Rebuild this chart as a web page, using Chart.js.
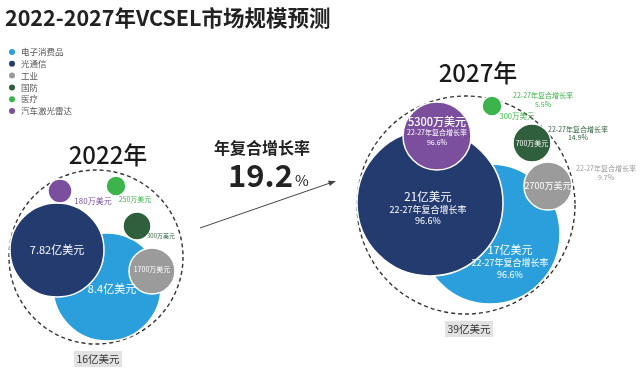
<!DOCTYPE html>
<html>
<head>
<meta charset="utf-8">
<script src="https://cdn.jsdelivr.net/npm/chart.js@4.4.1/dist/chart.umd.min.js"></script>
<style>
html, body { margin: 0; padding: 0; background: #fff; }
#wrap { width: 640px; height: 370px; position: relative; }
</style>
</head>
<body>
<div id="wrap"><canvas id="myChart"></canvas></div>
<script>
var categories = ['电子消费品', '光通信', '工业', '国防', '医疗', '汽车激光雷达'];
var colors = ['#2a9fdb', '#243b70', '#9b9b9b', '#2f5f3c', '#3cb44b', '#7c4f9e'];
// market size in 万美元
var values2022 = [84000, 78200, 1700, 300, 250, 180];
var values2027 = [170000, 210000, 2700, 700, 300, 5300];
var cagr = [96.6, 96.6, 9.7, 14.9, 5.5, 96.6];
var years = ['2022年', '2027年'];
var totals = [16, 39]; // 亿美元
var totalCagr = 19.2;

// bubble layout, canvas px
var pos2022 = [[107, 287], [57, 250], [152, 271], [137, 226], [116, 186], [60, 191]];
var size2022 = [54, 47, 23, 14, 10, 12];
var pos2027 = [[490, 234], [430, 203], [548, 186], [532, 143], [492, 106], [437, 136]];
var size2027 = [70, 73, 24, 19, 10, 34];
var drawOrder = [6, 5, 2, 3, 4, 1];
var rings = [[96, 257, 87], [466, 205, 109]];

var FONT = '"Noto Sans CJK SC", "Noto Sans", sans-serif';

function fmt(v) {
	if (v >= 10000) return (v / 10000) + '亿美元';
	return v + '万美元';
}

// label offsets from the bubble centre: [dx, dy, size, colour index or white]
var lab2022 = [[5, 2, 11], [0, 0, 11], [0, -2, 7], [24, 10, 6, 3], [19, 13, 7, 4], [33, 10, 8, 5]];
var lab2027 = [
	{v: [20, 16, 11], c: [20, 29, 9], p: [20, 41, 9]},
	{v: [-2, -6, 11.5], c: [-2, 7, 9], p: [-2, 18, 9]},
	{v: [0, 0, 9], c: [58, -18, 7, 2], p: [58, -9, 7, 2]},
	{v: [0, 0, 7], c: [46, -14, 7, 3], p: [46, -6, 7, 3]},
	{v: [25, 10, 7.5, 4], c: [51, -11, 7, 4], p: [51, -2, 7, 4]},
	{v: [0, -14, 11, null, '500'], c: [0, -4, 7], p: [0, 6, 7]}
];

function text(ctx, str, x, y, size, color, weight, align) {
	ctx.font = (weight || 'normal') + ' ' + size + 'px ' + FONT;
	ctx.fillStyle = color;
	ctx.textAlign = align || 'center';
	ctx.textBaseline = 'middle';
	ctx.fillText(str, x, y);
}

var overlay = {
	id: 'overlay',
	beforeDatasetsDraw: function(chart) {
		var ctx = chart.ctx, xs = chart.scales.x, ys = chart.scales.y;
		ctx.save();
		ctx.setLineDash([4, 3]);
		ctx.strokeStyle = '#333';
		ctx.lineWidth = 1.4;
		rings.forEach(function(r) {
			ctx.beginPath();
			ctx.arc(xs.getPixelForValue(r[0]), ys.getPixelForValue(r[1]), r[2], 0, Math.PI * 2);
			ctx.stroke();
		});
		ctx.restore();
	},
	afterDatasetsDraw: function(chart) {
		var ctx = chart.ctx;
		ctx.save();
		// title
		text(ctx, '2022-2027年VCSEL市场规模预测', 5, 18, 21.5, '#222', 'bold', 'left');
		// legend
		categories.forEach(function(c, i) {
			ctx.beginPath();
			ctx.fillStyle = colors[i];
			ctx.arc(12, 52 + i * 11.8, 3, 0, Math.PI * 2);
			ctx.fill();
			text(ctx, c, 21, 52 + i * 11.8, 8.5, '#555', 'normal', 'left');
		});
		// years
		text(ctx, years[0], 108, 155, 24, '#1a1a1a', '500');
		text(ctx, years[1], 478, 73, 24, '#1a1a1a', '500');
		// overall CAGR
		text(ctx, '年复合增长率', 262, 148, 16, '#222', 'bold');
		text(ctx, String(totalCagr), 228, 175, 31, '#222', 'bold', 'left');
		ctx.font = 'bold 31px ' + FONT;
		var w = ctx.measureText(String(totalCagr)).width;
		text(ctx, '%', 230 + w, 180, 15, '#222', 'normal', 'left');
		// arrow
		ctx.strokeStyle = '#444';
		ctx.lineWidth = 1;
		ctx.beginPath();
		ctx.moveTo(200, 228);
		ctx.lineTo(333, 182);
		ctx.stroke();
		var a = Math.atan2(182 - 228, 333 - 200);
		ctx.fillStyle = '#444';
		ctx.beginPath();
		ctx.moveTo(336, 181);
		ctx.lineTo(336 - 8 * Math.cos(a - 0.35), 181 - 8 * Math.sin(a - 0.35));
		ctx.lineTo(336 - 8 * Math.cos(a + 0.35), 181 - 8 * Math.sin(a + 0.35));
		ctx.closePath();
		ctx.fill();

		// bubble labels
		categories.forEach(function(c, i) {
			var p = chart.getDatasetMeta(i).data[0];
			var l = lab2022[i];
			text(ctx, fmt(values2022[i]), p.x + l[0], p.y + l[1], l[2], l[3] != null ? colors[l[3]] : '#fff');
			var q = chart.getDatasetMeta(i).data[1];
			var s = lab2027[i];
			text(ctx, fmt(values2027[i]), q.x + s.v[0], q.y + s.v[1], s.v[2], s.v[3] != null ? colors[s.v[3]] : '#fff', s.v[4]);
			text(ctx, '22-27年复合增长率', q.x + s.c[0], q.y + s.c[1], s.c[2], s.c[3] != null ? colors[s.c[3]] : '#fff');
			text(ctx, cagr[i] + '%', q.x + s.p[0], q.y + s.p[1], s.p[2], s.p[3] != null ? colors[s.p[3]] : '#fff');
		});

		// totals
		ctx.fillStyle = '#e2e2e2';
		ctx.fillRect(74, 351, 48, 16);
		ctx.fillRect(445, 321, 48, 16);
		text(ctx, totals[0] + '亿美元', 98, 359, 10.5, '#333');
		text(ctx, totals[1] + '亿美元', 469, 329, 10.5, '#333');
		ctx.restore();
	}
};

var datasets = categories.map(function(c, i) {
	return {
		label: c,
		order: drawOrder[i],
		data: [
			{x: pos2022[i][0], y: pos2022[i][1], r: size2022[i]},
			{x: pos2027[i][0], y: pos2027[i][1], r: size2027[i]}
		],
		backgroundColor: colors[i],
		borderColor: '#fff',
		borderWidth: 1.5,
		clip: false
	};
});

var myChart = new Chart(document.getElementById('myChart'), {
	type: 'bubble',
	data: { datasets: datasets },
	options: {
		responsive: true,
		maintainAspectRatio: false,
		animation: false,
		layout: { padding: 0, autoPadding: false },
		plugins: { legend: { display: false }, tooltip: { enabled: false } },
		scales: {
			x: { type: 'linear', min: 0, max: 640, display: false },
			y: { type: 'linear', min: 0, max: 370, reverse: true, display: false }
		}
	},
	plugins: [overlay]
});
</script>
</body>
</html>
